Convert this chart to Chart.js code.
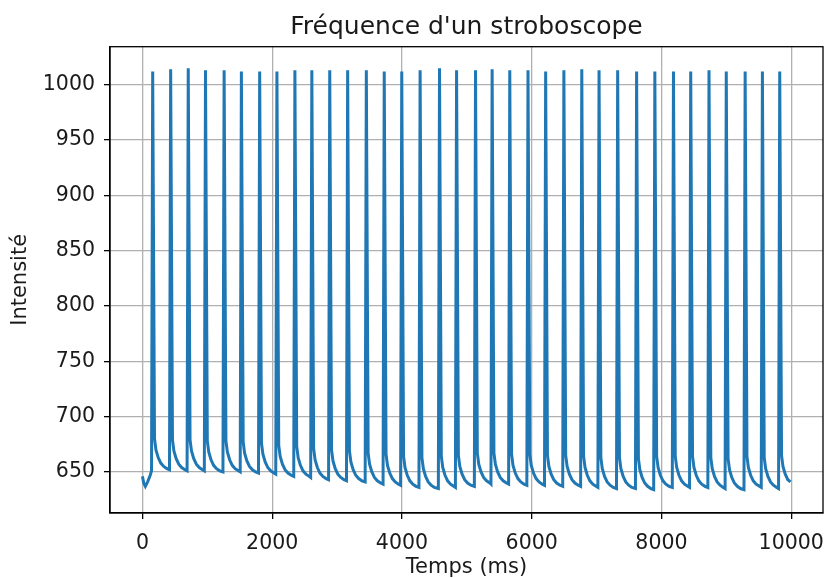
<!DOCTYPE html>
<html lang="fr">
<head>
  <meta charset="UTF-8">
  <title>Fréquence d'un stroboscope</title>
  <script src="https://cdn.jsdelivr.net/npm/chart.js"></script>
  <style>
    html, body { margin: 0; padding: 0; background: #fff; }
    .wrap { width: 825px; height: 578px; }
  </style>
</head>
<body>
  <div class="wrap">
    <canvas id="strobo" width="825" height="578"></canvas>
  </div>

  <script>
    // instants des pics (ms)
    const peakTimes = [158, 435, 706, 972, 1259, 1525, 1807, 2073, 2350, 2611, 2887, 3163,
      3451, 3727, 3997, 4280, 4579, 4842, 5134, 5390, 5662, 5943, 6215, 6496,
      6772, 7038, 7325, 7617, 7898, 8185, 8451, 8733, 8999, 9290, 9556, 9823];
    // hauteur de chaque pic
    const peakValues = [1012, 1014, 1015, 1013, 1013, 1012, 1012, 1012, 1013, 1013, 1013, 1013,
      1013, 1012, 1012, 1013, 1015, 1013, 1013, 1014, 1013, 1013, 1012, 1013,
      1014, 1013, 1013, 1012, 1012, 1012, 1012, 1013, 1012, 1012, 1012, 1012];
    // niveau bas atteint après chaque pic
    const troughValues = [652, 651, 651, 650, 650, 649, 648, 646, 645, 643, 642, 641,
      639, 638, 636, 635, 636, 637, 639, 639, 638, 638, 637, 637,
      636, 635, 635, 634, 636, 636, 636, 635, 634, 636, 635, 637];
    // début du signal, avant le premier pic
    const startTimes = [0, 20, 45, 80, 120, 140];
    const startValues = [646, 640, 637, 641, 647, 651];
    // décroissance après un pic : ms après le pic, écart au niveau bas
    const decayOffsets = [28, 50, 85, 125, 170, 220];
    const decayDeltas = [28, 18, 11, 6, 3, 1];
    const riseLead = 18;
    const endTime = 9990;
    const endValue = 641;

    const xTicks = [0, 2000, 4000, 6000, 8000, 10000];
    const yTicks = [650, 700, 750, 800, 850, 900, 950, 1000];

    const points = startTimes.map((t, i) => ({ x: t, y: startValues[i] }));
    peakTimes.forEach((tp, k) => {
      if (k > 0) points.push({ x: tp - riseLead, y: troughValues[k - 1] });
      points.push({ x: tp, y: peakValues[k] });
      decayOffsets.forEach((dt, j) => {
        if (tp + dt >= endTime) return;
        points.push({ x: tp + dt, y: troughValues[k] + decayDeltas[j] });
      });
    });
    points.push({ x: endTime, y: endValue });

    const font = 'DejaVu Sans';
    const textColor = '#1a1a1a';

    // cadre noir autour de la zone de tracé
    const frame = {
      id: 'frame',
      afterDraw(chart) {
        const a = chart.chartArea;
        const ctx = chart.ctx;
        ctx.save();
        ctx.strokeStyle = '#000';
        ctx.lineWidth = 1.3;
        ctx.strokeRect(a.left, a.top, a.right - a.left, a.bottom - a.top);
        ctx.restore();
      }
    };

    new Chart(document.getElementById('strobo'), {
      type: 'line',
      data: {
        datasets: [{
          data: points,
          borderColor: '#1f77b4',
          borderWidth: 3,
          pointRadius: 0,
          tension: 0,
          fill: false
        }]
      },
      options: {
        responsive: false,
        animation: false,
        layout: { padding: { left: 0, right: 2, top: 0, bottom: 0 } },
        plugins: {
          legend: { display: false },
          tooltip: { enabled: false },
          title: {
            display: true,
            text: "Fréquence d'un stroboscope",
            fullSize: false,
            color: textColor,
            font: { family: font, size: 25, weight: 'normal', lineHeight: 1.2 },
            padding: { top: 12, bottom: 4.7 }
          }
        },
        scales: {
          x: {
            type: 'linear',
            min: -500,
            max: 10490,
            afterBuildTicks: s => { s.ticks = xTicks.map(v => ({ value: v })); },
            afterFit: s => { s.height = 65; s.paddingLeft = 0; s.paddingRight = 0; },
            grid: { color: '#b0b0b0', lineWidth: 1.3, tickColor: '#000', tickLength: 6 },
            border: { color: '#000', width: 1.3 },
            ticks: {
              color: textColor, padding: 12, maxRotation: 0, autoSkip: false,
              font: { family: font, size: 20.5 },
              callback: v => String(v)
            },
            title: {
              display: true, text: 'Temps (ms)', color: textColor,
              font: { family: font, size: 21, lineHeight: 1.0 }, padding: { top: 0, bottom: 0 }
            }
          },
          y: {
            min: 612.9,
            max: 1034.4,
            afterBuildTicks: s => { s.ticks = yTicks.map(v => ({ value: v })); },
            afterFit: s => { s.width = 110; },
            grid: { color: '#b0b0b0', lineWidth: 1.3, tickColor: '#000', tickLength: 6 },
            border: { color: '#000', width: 1.3 },
            ticks: {
              color: textColor, padding: 9, autoSkip: false,
              font: { family: font, size: 20.5 },
              callback: v => String(v)
            },
            title: {
              display: true, text: 'Intensité', color: textColor,
              font: { family: font, size: 21 }, padding: { top: 8, bottom: 0 }
            }
          }
        }
      },
      plugins: [frame]
    });
  </script>
</body>
</html>
